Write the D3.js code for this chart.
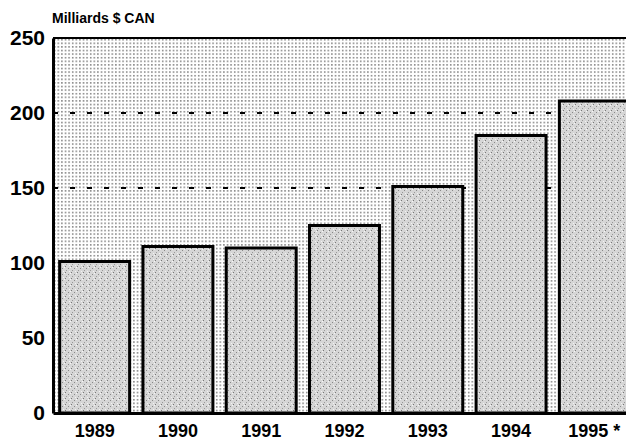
<!DOCTYPE html>
<meta charset="utf-8">
<style>
body { margin: 0; background: #fff; }
text { font-family: "Liberation Sans", Arial, sans-serif; font-weight: bold; fill: #000; }
.bar { stroke: #000; stroke-width: 3px; }
.ref { stroke: #000; stroke-width: 2px; stroke-dasharray: 5 12; }
</style>
<body>
<script src="https://d3js.org/d3.v7.min.js"></script>
<script>
// data
var years = ["1989", "1990", "1991", "1992", "1993", "1994", "1995 *"];
var values = [101, 111, 110, 125, 151, 185, 208];
var yTicks = [0, 50, 100, 150, 200, 250];
var refLines = [150, 200];

var margin = {top: 38, right: -20, bottom: 31, left: 53},
    width = 626 - margin.left - margin.right,
    height = 444 - margin.top - margin.bottom;

var svg = d3.select("body").append("svg")
    .attr("width", 626)
    .attr("height", 444);

// patterns: dotted background and stippled bars
var defs = svg.append("defs");
var bg = defs.append("pattern")
    .attr("id", "dots")
    .attr("patternUnits", "userSpaceOnUse")
    .attr("width", 3.6).attr("height", 3.6);
bg.append("rect").attr("width", 3.6).attr("height", 3.6).attr("fill", "#fff");
bg.append("rect").attr("x", 1).attr("y", 1).attr("width", 1.4).attr("height", 1.4).attr("fill", "#666");

var st = defs.append("pattern")
    .attr("id", "stipple")
    .attr("patternUnits", "userSpaceOnUse")
    .attr("width", 6).attr("height", 6);
st.append("rect").attr("width", 6).attr("height", 6).attr("fill", "#d6d6d6");
st.append("rect").attr("x", 0).attr("y", 0).attr("width", 1).attr("height", 1).attr("fill", "#777");
st.append("rect").attr("x", 3).attr("y", 2).attr("width", 1).attr("height", 1).attr("fill", "#888");
st.append("rect").attr("x", 1).attr("y", 4).attr("width", 1).attr("height", 1).attr("fill", "#999");
st.append("rect").attr("x", 4).attr("y", 5).attr("width", 1).attr("height", 1).attr("fill", "#f2f2f2");
st.append("rect").attr("x", 5).attr("y", 1).attr("width", 1).attr("height", 1).attr("fill", "#f6f6f6");

var g = svg.append("g")
    .attr("transform", "translate(" + margin.left + "," + margin.top + ")");

var x = d3.scaleBand().domain(years).range([0, 583]).paddingInner(0.16).paddingOuter(0.08);
var y = d3.scaleLinear().domain([0, 250]).range([height, 0]);

// plot background
g.append("rect")
    .attr("width", width).attr("height", height)
    .attr("fill", "url(#dots)");

// dashed reference lines
g.selectAll(".ref")
    .data(refLines)
  .enter().append("line")
    .attr("class", "ref")
    .attr("x1", 0).attr("x2", width)
    .attr("y1", function(d) { return y(d); })
    .attr("y2", function(d) { return y(d); });

// bars (last one runs off the right edge)
g.selectAll(".bar")
    .data(values)
  .enter().append("rect")
    .attr("class", "bar")
    .attr("fill", "url(#stipple)")
    .attr("x", function(d, i) { return x(years[i]); })
    .attr("width", function(d, i) { return i === years.length - 1 ? x.bandwidth() + 20 : x.bandwidth(); })
    .attr("y", function(d) { return y(d); })
    .attr("height", function(d) { return height - y(d); });

// top border
g.append("line")
    .attr("x1", 0).attr("x2", width)
    .attr("y1", 0).attr("y2", 0)
    .attr("stroke", "#000").attr("stroke-width", 2);

// y axis
var yAxis = g.append("g")
    .call(d3.axisLeft(y).tickValues(yTicks).tickSize(0).tickPadding(8));
yAxis.select(".domain").attr("stroke-width", 3);
yAxis.selectAll("text").style("font-size", "21px");

// x axis
var xAxis = g.append("g")
    .attr("transform", "translate(0," + height + ")")
    .call(d3.axisBottom(x).tickSize(0).tickPadding(11));
xAxis.select(".domain").attr("stroke-width", 3);
xAxis.selectAll("text").style("font-size", "18px");

// unit label
svg.append("text")
    .attr("x", 52).attr("y", 23)
    .style("font-size", "14px")
    .text("Milliards $ CAN");
</script>
</body>
